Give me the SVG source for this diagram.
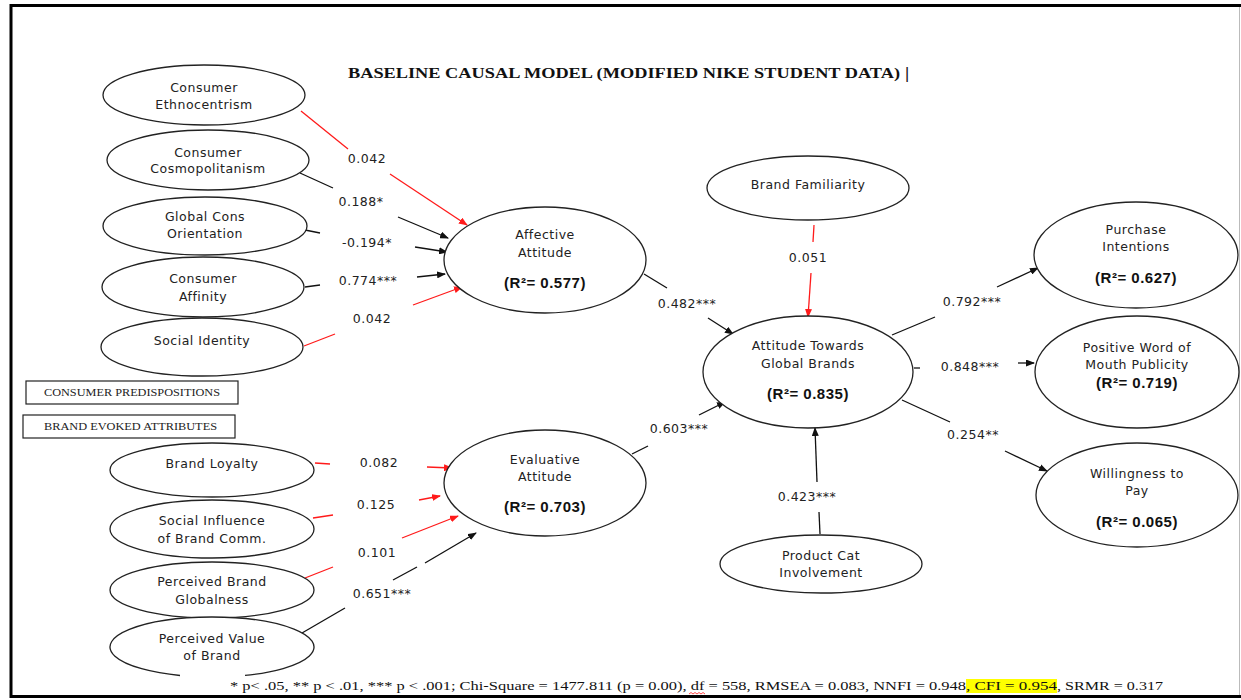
<svg xmlns="http://www.w3.org/2000/svg" width="1241" height="700" viewBox="0 0 1241 700">
  <style>
    .node ellipse, .node path { fill: #ffffff; stroke: #222222; stroke-width: 1.3; }
    .lbl { font-family: "DejaVu Sans", Verdana, sans-serif; font-size: 12.5px; letter-spacing: 0.5px; fill: #222222; text-anchor: middle; }
    .r2 { font-family: "Liberation Sans", Arial, sans-serif; font-size: 15px; font-weight: bold; letter-spacing: 0.5px; fill: #111111; text-anchor: middle; }
    .coef { font-family: "DejaVu Sans", Verdana, sans-serif; font-size: 12.5px; letter-spacing: 0.5px; fill: #222222; text-anchor: middle; }
    .blk { stroke: #111111; stroke-width: 1.3; fill: none; }
    .red { stroke: #ff1a1a; stroke-width: 1.3; fill: none; }
    .cap { font-family: "Liberation Serif", "Times New Roman", serif; font-size: 10.5px; fill: #222222; }
    .foot { font-family: "Liberation Serif", "Times New Roman", serif; font-size: 13px; fill: #111111; }
  </style>
  <defs>
    <marker id="ahB" markerWidth="9" markerHeight="7" refX="8" refY="3.5" orient="auto" markerUnits="userSpaceOnUse">
      <path d="M0,0 L9,3.5 L0,7 z" fill="#111111"/>
    </marker>
    <marker id="ahR" markerWidth="9" markerHeight="7" refX="8" refY="3.5" orient="auto" markerUnits="userSpaceOnUse">
      <path d="M0,0 L9,3.5 L0,7 z" fill="#ff1a1a"/>
    </marker>
  </defs>

  <rect x="0" y="0" width="1241" height="700" fill="#ffffff"/>

  <!-- page frame -->
  <g id="frame">
    <path d="M11,5.5 H1241 M11,4 V698 M11,696.5 H1241" stroke="#000000" stroke-width="3" fill="none"/>
    <line x1="1239.5" y1="7" x2="1239.5" y2="695" stroke="#bbbbbb" stroke-width="1"/>
  </g>

  <!-- title -->
  <text x="348" y="78" font-family="'Liberation Serif', 'Times New Roman', serif" font-size="15" font-weight="bold" fill="#111111" textLength="552" lengthAdjust="spacingAndGlyphs">BASELINE CAUSAL MODEL (MODIFIED NIKE STUDENT DATA)</text>
  <text x="905" y="79" font-family="'Liberation Sans', Arial, sans-serif" font-size="16" fill="#111111">|</text>

  <!-- connectors -->
  <g id="connectors">
    <!-- consumer predispositions to affective attitude -->
    <path class="red" d="M301,111 L348,149"/>
    <path class="red" d="M390,174 L467,225" marker-end="url(#ahR)"/>
    <path class="blk" d="M300,173 L333,188"/>
    <path class="blk" d="M398,217 L448,238" marker-end="url(#ahB)"/>
    <path class="blk" d="M305,230 L320,233"/>
    <path class="blk" d="M415,247 L447,252" marker-end="url(#ahB)"/>
    <path class="blk" d="M305,287 L320,285"/>
    <path class="blk" d="M417,277 L445,274" marker-end="url(#ahB)"/>
    <path class="red" d="M304,346 L335,334"/>
    <path class="red" d="M413,305 L462,287" marker-end="url(#ahR)"/>
    <!-- brand evoked attributes to evaluative attitude -->
    <path class="red" d="M315,463 L330,464"/>
    <path class="red" d="M427,467 L452,468" marker-end="url(#ahR)"/>
    <path class="red" d="M313,518 L333,515"/>
    <path class="red" d="M419,500 L440,496" marker-end="url(#ahR)"/>
    <path class="red" d="M305,578 L333,567"/>
    <path class="red" d="M402,538 L458,516" marker-end="url(#ahR)"/>
    <path class="blk" d="M302,633 L345,608"/>
    <path class="blk" d="M393,580 L417,567"/>
    <path class="blk" d="M425,563 L476,533" marker-end="url(#ahB)"/>
    <!-- attitudes to attitude towards global brands -->
    <path class="blk" d="M644,274 L667,288"/>
    <path class="blk" d="M708,318 L733,334" marker-end="url(#ahB)"/>
    <path class="blk" d="M632,454 L648,446"/>
    <path class="blk" d="M699,415 L725,402" marker-end="url(#ahB)"/>
    <path class="red" d="M814,225 L813,242"/>
    <path class="red" d="M811,273 L808,317" marker-end="url(#ahR)"/>
    <path class="blk" d="M820,534 L819,512"/>
    <path class="blk" d="M817,482 L815,428" marker-end="url(#ahB)"/>
    <!-- outcomes -->
    <path class="blk" d="M892,335 L935,317"/>
    <path class="blk" d="M997,287 L1038,268" marker-end="url(#ahB)"/>
    <path class="blk" d="M914,368 L920,368"/>
    <path class="blk" d="M1018,363 L1034,363" marker-end="url(#ahB)"/>
    <path class="blk" d="M902,400 L950,422"/>
    <path class="blk" d="M1005,451 L1047,471" marker-end="url(#ahB)"/>
  </g>

  <!-- path coefficients -->
  <g id="coefficients">
    <text class="coef" x="367" y="162.5">0.042</text>
    <text class="coef" x="361" y="205.5">0.188*</text>
    <text class="coef" x="367" y="246.5">-0.194*</text>
    <text class="coef" x="368" y="284.5">0.774***</text>
    <text class="coef" x="372" y="322.5">0.042</text>
    <text class="coef" x="687" y="307.5">0.482***</text>
    <text class="coef" x="808" y="261.5">0.051</text>
    <text class="coef" x="679" y="432.5">0.603***</text>
    <text class="coef" x="807" y="500.5">0.423***</text>
    <text class="coef" x="972" y="305.5">0.792***</text>
    <text class="coef" x="970" y="370.5">0.848***</text>
    <text class="coef" x="973" y="438.5">0.254**</text>
    <text class="coef" x="379" y="466.5">0.082</text>
    <text class="coef" x="376" y="508.5">0.125</text>
    <text class="coef" x="377" y="556.5">0.101</text>
    <text class="coef" x="382" y="597.5">0.651***</text>
  </g>

  <!-- consumer predispositions -->
  <g id="consumer-ethnocentrism" class="node">
    <ellipse cx="204" cy="95" rx="101" ry="30"/>
    <text class="lbl" x="204" y="91.5">Consumer</text>
    <text class="lbl" x="204" y="108.5">Ethnocentrism</text>
  </g>
  <g id="consumer-cosmopolitanism" class="node">
    <ellipse cx="208" cy="160" rx="101" ry="30"/>
    <text class="lbl" x="208" y="156.5">Consumer</text>
    <text class="lbl" x="208" y="172.5">Cosmopolitanism</text>
  </g>
  <g id="global-cons-orientation" class="node">
    <ellipse cx="205" cy="226" rx="102" ry="29"/>
    <text class="lbl" x="205" y="220.5">Global Cons</text>
    <text class="lbl" x="205" y="237.5">Orientation</text>
  </g>
  <g id="consumer-affinity" class="node">
    <ellipse cx="203" cy="287" rx="101" ry="30"/>
    <text class="lbl" x="203" y="282.5">Consumer</text>
    <text class="lbl" x="203" y="300.5">Affinity</text>
  </g>
  <g id="social-identity" class="node">
    <ellipse cx="202" cy="347" rx="101" ry="29"/>
    <text class="lbl" x="202" y="344.5">Social Identity</text>
  </g>

  <!-- group captions -->
  <g id="caption-predispositions">
    <rect x="26" y="381" width="212" height="23" fill="#ffffff" stroke="#222222" stroke-width="1.2"/>
    <text class="cap" x="44" y="396" textLength="176" lengthAdjust="spacingAndGlyphs">CONSUMER PREDISPOSITIONS</text>
  </g>
  <g id="caption-attributes">
    <rect x="23" y="415" width="212" height="23" fill="#ffffff" stroke="#222222" stroke-width="1.2"/>
    <text class="cap" x="44" y="430" textLength="173" lengthAdjust="spacingAndGlyphs">BRAND EVOKED ATTRIBUTES</text>
  </g>

  <!-- brand evoked attributes -->
  <g id="brand-loyalty" class="node">
    <ellipse cx="212" cy="470" rx="102" ry="27"/>
    <text class="lbl" x="212" y="467.5">Brand Loyalty</text>
  </g>
  <g id="social-influence" class="node">
    <ellipse cx="212" cy="529" rx="102" ry="29"/>
    <text class="lbl" x="212" y="524.5">Social Influence</text>
    <text class="lbl" x="212" y="542.5">of Brand Comm.</text>
  </g>
  <g id="perceived-brand-globalness" class="node">
    <ellipse cx="212" cy="590" rx="102" ry="28"/>
    <text class="lbl" x="212" y="585.5">Perceived Brand</text>
    <text class="lbl" x="212" y="603.5">Globalness</text>
  </g>
  <g id="perceived-value" class="node">
    <path d="M245,675.4 A102,30 0 1,0 180,675.5"/>
    <text class="lbl" x="212" y="642.5">Perceived Value</text>
    <text class="lbl" x="212" y="659.5">of Brand</text>
  </g>

  <!-- mediating attitudes -->
  <g id="affective-attitude" class="node">
    <ellipse cx="545" cy="260" rx="101" ry="53"/>
    <text class="lbl" x="545" y="238.5">Affective</text>
    <text class="lbl" x="545" y="256.5">Attitude</text>
    <text class="r2" x="545" y="287.5">(R²= 0.577)</text>
  </g>
  <g id="evaluative-attitude" class="node">
    <ellipse cx="545" cy="483" rx="101" ry="53"/>
    <text class="lbl" x="545" y="463.5">Evaluative</text>
    <text class="lbl" x="545" y="480.5">Attitude</text>
    <text class="r2" x="545" y="511.5">(R²= 0.703)</text>
  </g>
  <g id="brand-familiarity" class="node">
    <ellipse cx="808" cy="188" rx="101" ry="32"/>
    <text class="lbl" x="808" y="188.5">Brand Familiarity</text>
  </g>
  <g id="attitude-global-brands" class="node">
    <ellipse cx="808" cy="372" rx="105" ry="56"/>
    <text class="lbl" x="808" y="349.5">Attitude Towards</text>
    <text class="lbl" x="808" y="367.5">Global Brands</text>
    <text class="r2" x="808" y="398.5">(R²= 0.835)</text>
  </g>
  <g id="product-cat-involvement" class="node">
    <ellipse cx="821" cy="564" rx="101" ry="29"/>
    <text class="lbl" x="821" y="559.5">Product Cat</text>
    <text class="lbl" x="821" y="576.5">Involvement</text>
  </g>

  <!-- outcomes -->
  <g id="purchase-intentions" class="node">
    <ellipse cx="1136" cy="255" rx="102" ry="53"/>
    <text class="lbl" x="1136" y="233.5">Purchase</text>
    <text class="lbl" x="1136" y="250.5">Intentions</text>
    <text class="r2" x="1136" y="282.5">(R²= 0.627)</text>
  </g>
  <g id="positive-wom" class="node">
    <ellipse cx="1137" cy="372" rx="102" ry="56"/>
    <text class="lbl" x="1137" y="351.5">Positive Word of</text>
    <text class="lbl" x="1137" y="368.5">Mouth Publicity</text>
    <text class="r2" x="1137" y="387.5">(R²= 0.719)</text>
  </g>
  <g id="willingness-to-pay" class="node">
    <ellipse cx="1137" cy="495" rx="101" ry="52"/>
    <text class="lbl" x="1137" y="477.5">Willingness to</text>
    <text class="lbl" x="1137" y="494.5">Pay</text>
    <text class="r2" x="1137" y="526.5">(R²= 0.065)</text>
  </g>

  <!-- fit statistics -->
  <g id="footnote">
    <rect x="966" y="679" width="91" height="14" fill="#ffff00"/>
    <text class="foot" x="230" y="690" textLength="736" lengthAdjust="spacingAndGlyphs">* p&lt; .05, ** p &lt; .01, *** p &lt; .001; Chi-Square = 1477.811 (p = 0.00), df = 558, RMSEA = 0.083, NNFI = 0.948</text>
    <text class="foot" x="966" y="690" textLength="91" lengthAdjust="spacingAndGlyphs">, CFI = 0.954</text>
    <text class="foot" x="1057" y="690" textLength="106" lengthAdjust="spacingAndGlyphs">, SRMR = 0.317</text>
    <path d="M689,694 l2,-1.5 l2,1.5 l2,-1.5 l2,1.5 l2,-1.5 l2,1.5 l2,-1.5 l2,1.5" stroke="#ff1a1a" stroke-width="0.8" fill="none"/>
  </g>
</svg>
